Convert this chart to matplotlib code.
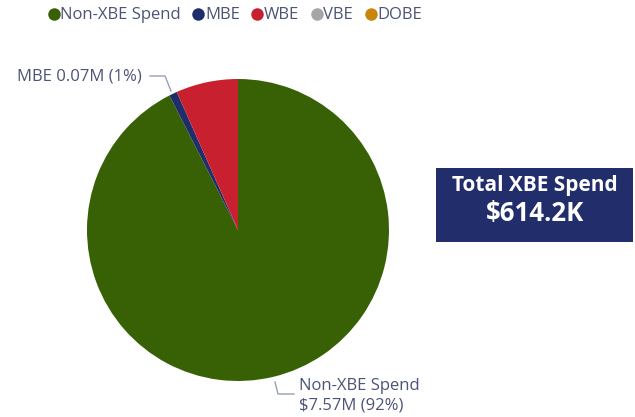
import matplotlib.pyplot as plt
from matplotlib.lines import Line2D
from matplotlib.patches import Rectangle

# spend by category, in $M
categories = ['Non-XBE Spend', 'MBE', 'WBE', 'VBE', 'DOBE']
spend = [7.57, 0.07, 0.5442, 0.0, 0.0]
colors = ['#386005', '#1f2d6b', '#c8202f', '#a6a6a6', '#c8860d']
total_xbe_k = 614.2

plt.rcParams['font.family'] = ['Open Sans', 'DejaVu Sans']
label_color = '#4b5477'

W, H = 635, 417
fig = plt.figure(figsize=(W / 100, H / 100), dpi=100)
ax = fig.add_axes([0, 0, 1, 1])

# pie slices, drawn clockwise from 12 o'clock; zero slices skipped
vals = [v for v in spend if v > 0]
cols = [c for v, c in zip(spend, colors) if v > 0]
ax.pie(vals, colors=cols, startangle=90, counterclock=False,
       center=(238, H - 230), radius=151,
       wedgeprops=dict(linewidth=0))
ax.set_xlim(0, W)
ax.set_ylim(0, H)
ax.set_aspect('equal')
ax.axis('off')

total = sum(spend)
pct = [v / total * 100 for v in spend]

# data labels with leader lines
ax.plot([150, 165, 171], [H - 76, H - 76, H - 91], color='#9aa0b4', lw=1)
ax.text(17, H - 76, f'MBE {spend[1]:.2f}M ({pct[1]:.0f}%)', fontsize=12,
        color=label_color, va='center', ha='left')
ax.plot([275, 278, 294], [H - 382, H - 394, H - 394], color='#9aa0b4', lw=1)
ax.text(299, H - 396, f'{categories[0]}\n${spend[0]:.2f}M ({pct[0]:.0f}%)',
        fontsize=12, color=label_color, va='center', ha='left',
        linespacing=1.25)

# total card
ax.add_patch(Rectangle((436, H - 242), 197, 74, facecolor='#222e6c',
                       edgecolor='none'))
ax.text(535, H - 185, 'Total XBE Spend', fontsize=15, fontweight='bold',
        color='white', ha='center', va='center')
ax.text(535, H - 213, f'${total_xbe_k}K', fontsize=18.5, fontweight='bold',
        color='white', ha='center', va='center')

# legend
handles = [Line2D([], [], marker='o', ls='none', markersize=9,
                  markerfacecolor=c, markeredgecolor='none') for c in colors]
fig.legend(handles, categories, loc='upper left', bbox_to_anchor=(0.045, 1.018),
           ncol=5, frameon=False, handletextpad=-0.2, columnspacing=0.45,
           handlelength=1.2, fontsize=12, labelcolor=label_color)

fig.savefig('out.png', dpi=100, facecolor='white')
plt.close('all')
